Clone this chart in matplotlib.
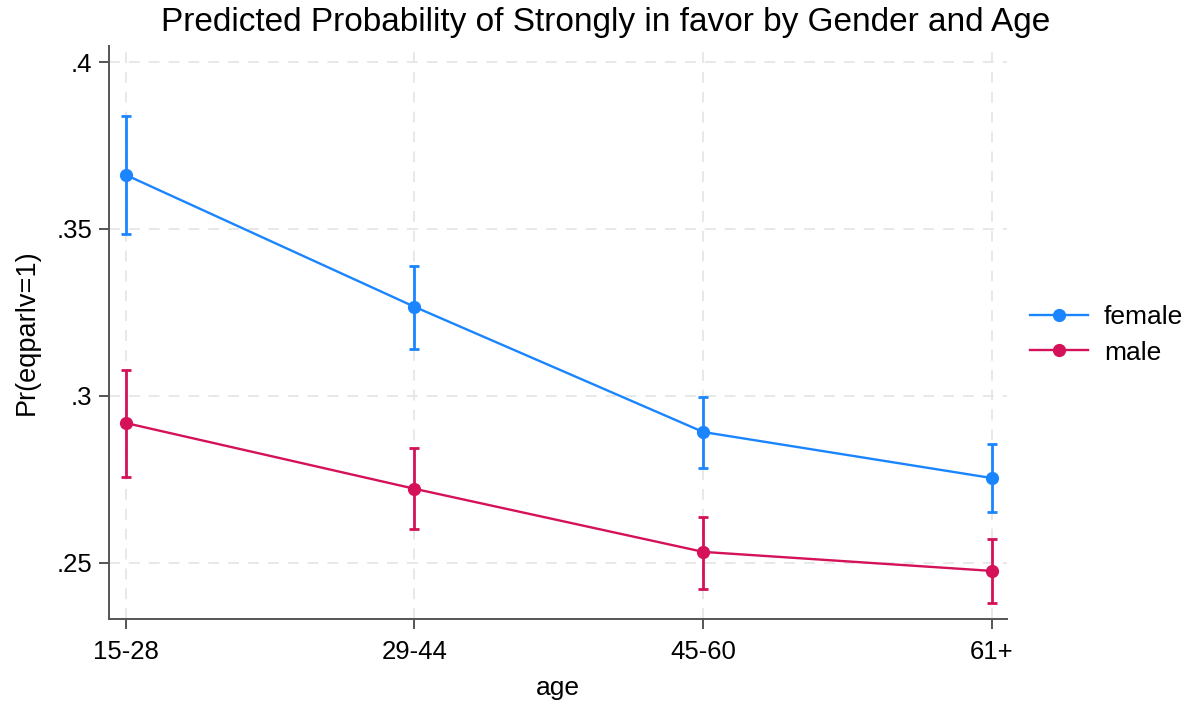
import numpy as np
import matplotlib
matplotlib.use("Agg")
from matplotlib import pyplot as plt

plt.rcParams['font.family'] = ['Liberation Sans', 'DejaVu Sans']

ages = ["15-28", "29-44", "45-60", "61+"]
female = [0.3662, 0.3267, 0.2892, 0.2754]
female_lo = [0.3485, 0.3141, 0.2784, 0.2653]
female_hi = [0.3838, 0.3389, 0.2997, 0.2856]
male = [0.2919, 0.2722, 0.2533, 0.2476]
male_lo = [0.2757, 0.2602, 0.2422, 0.2380]
male_hi = [0.3078, 0.2844, 0.2638, 0.2572]
yticks = [0.25, 0.30, 0.35, 0.40]
ylabels = [".25", ".3", ".35", ".4"]

blue = "#1a85ff"
red = "#d41159"

fig = plt.figure(figsize=(11.94, 7.02), dpi=100)
ax = fig.add_axes([109/1194, 1-619/702, (1007-109)/1194, (619-46)/702])
x = np.arange(len(ages))

for vals, lo, hi, c, lab in [(female, female_lo, female_hi, blue, "female"),
                             (male, male_lo, male_hi, red, "male")]:
    vals = np.array(vals)
    err = [vals - np.array(lo), np.array(hi) - vals]
    ax.errorbar(x, vals, yerr=err, fmt='none', ecolor=c, elinewidth=2, capsize=3.8, capthick=2, zorder=3)
    ax.plot(x, vals, '-o', color=c, lw=1.7, ms=8.5, label=lab, zorder=4)

ax.set_xlim(-0.058, 3.052)
ax.set_ylim(0.2332, 0.4048)
ax.set_xticks(x)
ax.set_xticklabels(ages)
ax.set_yticks(yticks)
ax.set_yticklabels(ylabels)
ax.grid(True, color="#e6e6e6", ls=(0, (6, 5)), lw=1.3, zorder=0)
ax.spines['top'].set_visible(False)
ax.spines['right'].set_visible(False)
for s in ['left', 'bottom']:
    ax.spines[s].set_color("#555555")
    ax.spines[s].set_linewidth(1.4)
ax.tick_params(axis='both', labelsize=18.5, length=7, width=1.4, color="#555555", pad=5)
ax.tick_params(axis='x', pad=8)
ax.set_xlabel("age", fontsize=19, labelpad=9)
ax.set_ylabel("Pr(eqparlv=1)", fontsize=19.5, labelpad=12)

fig.text(0.507, 1-22/702, "Predicted Probability of Strongly in favor by Gender and Age",
         ha='center', va='center', fontsize=24)

ax.legend(loc='center left', bbox_to_anchor=(1.005, 0.496), frameon=False, fontsize=19,
          handlelength=2.2, handletextpad=0.6, borderaxespad=0.3, labelspacing=0.45)

fig.savefig("out.png", dpi=100)
